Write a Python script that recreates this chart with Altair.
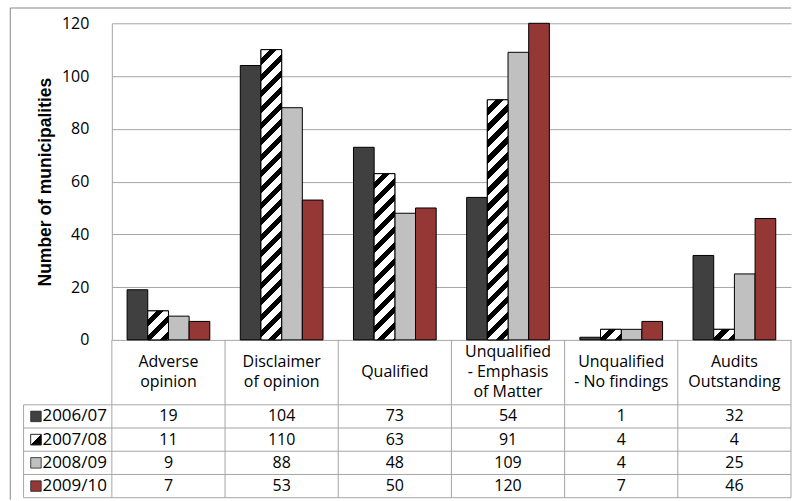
import altair as alt
import pandas as pd

# ---------------- data ----------------
categories = ["Adverse opinion", "Disclaimer of opinion", "Qualified",
              "Unqualified - Emphasis of Matter", "Unqualified - No findings",
              "Audits Outstanding"]
category_labels = ["Adverse\nopinion", "Disclaimer\nof opinion", "Qualified",
                   "Unqualified\n- Emphasis\nof Matter", "Unqualified\n- No findings",
                   "Audits\nOutstanding"]
years = ["2006/07", "2007/08", "2008/09", "2009/10"]
v_2006_07 = [19, 104, 73, 54, 1, 32]
v_2007_08 = [11, 110, 63, 91, 4, 4]
v_2008_09 = [9, 88, 48, 109, 4, 25]
v_2009_10 = [7, 53, 50, 120, 7, 46]
y_ticks = [0, 20, 40, 60, 80, 100, 120]

series = dict(zip(years, [v_2006_07, v_2007_08, v_2008_09, v_2009_10]))
df = pd.DataFrame([
    {"category": c, "year": y, "value": series[y][i]}
    for y in years for i, c in enumerate(categories)
])
cat_df = pd.DataFrame({"category": categories, "label": category_labels,
                       "n_lines": [s.count("\n") + 1 for s in category_labels]})
year_df = pd.DataFrame({"year": years})

# ---------------- styles ----------------
fills = ["#404040", "#ffffff", "#c0c0c0", "#953735"]
GRID = "#a6a6a6"
FRAME = "#868686"
FONT = "Open Sans"
W, H = 680, 317
HEADER_H, ROWS_H = 65, 93
YMAX = 120
OFF_PAD = 0.737
LEFT_COL = -88.4
LINE_H = 20

xscale = alt.Scale(domain=categories, paddingInner=0, paddingOuter=0)
xenc = alt.X("category:N", sort=categories, scale=xscale, axis=None)
xoff = alt.XOffset("year:N", sort=years,
                   scale=alt.Scale(domain=years, paddingInner=0, paddingOuter=OFF_PAD))
yaxis = alt.Axis(values=y_ticks, title="Number of municipalities", ticks=False,
                 tickSize=0, labelPadding=23, labelFont=FONT, labelFontSize=16,
                 labelColor="black", domainColor=GRID, gridColor=GRID,
                 titleFont="Liberation Sans", titleFontSize=17.5, titleFontWeight="bold",
                 titleColor="black", titlePadding=7)
yscale = alt.Scale(domain=[0, YMAX], nice=False)
yenc = alt.Y("value:Q", scale=yscale, axis=yaxis)
colscale = alt.Scale(domain=years, range=fills)

bar_w = (W / len(categories)) / (len(years) + 2 * OFF_PAD)


def hatch(v, period=16.0, duty=0.45, r=1.0):
    """Diagonal '/' stripes expressed as a bounding-box linear gradient."""
    h = max(v / YMAX * H, 1.0)
    w = bar_w
    L = r * w + h
    s = L / (r * r * w * w + h * h)
    p = period / L
    stops = []
    t = 0.0
    while t < 1.0:
        mid = min(t + (1 - duty) * p, 1.0)
        w_end = min(t + p, 1.0)
        stops += [alt.GradientStop(offset=t, color="white"),
                  alt.GradientStop(offset=mid, color="white"),
                  alt.GradientStop(offset=mid, color="black"),
                  alt.GradientStop(offset=w_end, color="black")]
        t += p
    return alt.LinearGradient(gradient="linear", stops=stops,
                              x1=0, y1=0, x2=s * r * w, y2=s * h)


# ---------------- top: bars ----------------
bars = alt.Chart(df).mark_bar(stroke="black", strokeWidth=1).encode(
    x=xenc, xOffset=xoff, y=yenc,
    color=alt.Color("year:N", scale=colscale, legend=None),
)
layers = [bars]
for i, c in enumerate(categories):
    layers.append(
        alt.Chart(df).transform_filter(
            (alt.datum.year == "2007/08") & (alt.datum.category == c)
        ).mark_bar(fill=hatch(v_2007_08[i]), stroke="black", strokeWidth=1).encode(
            x=xenc, xOffset=xoff, y=yenc)
    )
frame_df = pd.DataFrame({"k": [0]})
frame_top = alt.Chart(frame_df).mark_rule(color=FRAME, strokeWidth=1).encode(
    x=alt.value(-101.7), x2=alt.value(W), y=alt.value(-15.3))
frame_left = alt.Chart(frame_df).mark_rule(color=FRAME, strokeWidth=1).encode(
    x=alt.value(-101.7), y=alt.value(-15.3), y2=alt.value(477))
top = alt.layer(*layers, frame_top, frame_left).properties(width=W, height=H)

# ---------------- header row ----------------
header_texts = []
for n in sorted(set(cat_df["n_lines"])):
    header_texts.append(
        alt.Chart(cat_df).transform_filter(alt.datum.n_lines == n).mark_text(
            font=FONT, fontSize=16, lineBreak="\n", lineHeight=LINE_H,
            baseline="middle", dy=-(n - 1) * LINE_H / 2, color="black"
        ).encode(x=xenc, y=alt.value(HEADER_H / 2), text="label:N")
    )
header_vlines = alt.Chart(cat_df).mark_rule(color=GRID).encode(
    x=alt.X("category:N", sort=categories, scale=xscale, axis=None, bandPosition=0),
    y=alt.value(0), y2=alt.value(HEADER_H))
header_right = alt.Chart(frame_df).mark_rule(color=GRID).encode(
    x=alt.value(W), y=alt.value(0), y2=alt.value(HEADER_H))
header = alt.layer(header_vlines, header_right, *header_texts).properties(
    width=W, height=HEADER_H)

# ---------------- data rows ----------------
yrow_scale = alt.Scale(domain=years, paddingInner=0, paddingOuter=0)
yrow = alt.Y("year:N", sort=years, scale=yrow_scale, axis=None)
yrow_top = alt.Y("year:N", sort=years, scale=yrow_scale, axis=None, bandPosition=0)

row_text = alt.Chart(df).mark_text(font=FONT, fontSize=16, color="black").encode(
    x=xenc, y=yrow, text=alt.Text("value:Q", format="d"))
year_text = alt.Chart(year_df).mark_text(font=FONT, fontSize=17, align="left",
                                         color="black").encode(
    x=alt.value(-69.5), y=yrow, text="year:N")
squares = alt.Chart(year_df).mark_square(size=110, stroke="#202020", strokeWidth=0.8,
                                         opacity=1).encode(
    x=alt.value(-76), y=yrow,
    color=alt.Color("year:N", scale=colscale, legend=None))
diag = alt.LinearGradient(gradient="linear", x1=0, y1=0, x2=1, y2=1, stops=[
    alt.GradientStop(offset=0, color="white"), alt.GradientStop(offset=0.5, color="white"),
    alt.GradientStop(offset=0.5, color="black"), alt.GradientStop(offset=1, color="black")])
square_hatch = alt.Chart(year_df).transform_filter(
    alt.datum.year == "2007/08").mark_square(size=110, fill=diag, stroke="#202020",
                                             strokeWidth=0.8, opacity=1).encode(
    x=alt.value(-76), y=yrow)
row_hlines = alt.Chart(year_df).mark_rule(color=GRID).encode(
    x=alt.value(LEFT_COL), x2=alt.value(W), y=yrow_top)
row_bottom = alt.Chart(frame_df).mark_rule(color=GRID).encode(
    x=alt.value(LEFT_COL), x2=alt.value(W), y=alt.value(ROWS_H))
row_vlines = alt.Chart(cat_df).mark_rule(color=GRID).encode(
    x=alt.X("category:N", sort=categories, scale=xscale, axis=None, bandPosition=0),
    y=alt.value(0), y2=alt.value(ROWS_H))
row_edges = alt.Chart(pd.DataFrame({"edge": [LEFT_COL, W]})).mark_rule(color=GRID).encode(
    x=alt.X("edge:Q", scale=None), y=alt.value(0), y2=alt.value(ROWS_H))
rows = alt.layer(row_hlines, row_bottom, row_vlines, row_edges, squares, square_hatch,
                 year_text, row_text).properties(width=W, height=ROWS_H)

chart = alt.vconcat(top, header, rows, spacing=0, bounds="flush").properties(
    padding={"left": 9, "top": 7, "right": 0, "bottom": 0}
).configure_view(stroke=None)

chart.save("out.html", embed_options={"renderer": "svg", "actions": False})
